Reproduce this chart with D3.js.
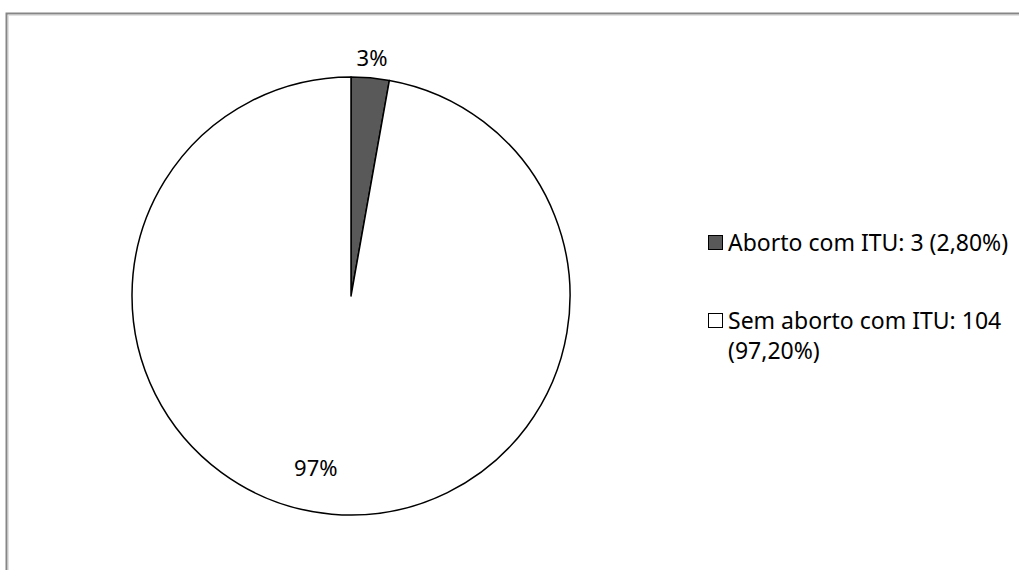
<!DOCTYPE html>
<html>
<head>
<meta charset="utf-8">
<script src="https://cdn.jsdelivr.net/npm/d3@7"></script>
<style>
  body { margin: 0; background: #fff; }
  svg { display: block; }
</style>
</head>
<body>
<div id="chart"></div>
<script>
// data
const categories = ["Aborto com ITU", "Sem aborto com ITU"]
const counts = [3, 104]
const percentLabels = ["2,80%", "97,20%"]
const sliceLabels = ["3%", "97%"]
const colors = ["#595959", "#ffffff"]

const width = 1019
const height = 570
const font = "'Noto Sans', 'Open Sans', sans-serif"
const fontSize = "22px"

const svg = d3.select("#chart")
    .append("svg")
    .attr("width", width)
    .attr("height", height)

// chart frame (runs off the right and bottom edges)
svg.append("rect")
    .attr("x", 6.5)
    .attr("y", 13.5)
    .attr("width", width + 20)
    .attr("height", height + 20)
    .style("fill", "none")
    .style("stroke", "#868686")
    .style("stroke-width", 2)
svg.append("rect")
    .attr("x", 8.5)
    .attr("y", 15.5)
    .attr("width", width + 20)
    .attr("height", height + 20)
    .style("fill", "none")
    .style("stroke", "#e2e2e2")
    .style("stroke-width", 1)

const cx = 351, cy = 296, radius = 219

const pie = d3.pie().sort(null).value(d => d)
const arcs = pie(counts)

const arc = d3.arc().innerRadius(0).outerRadius(radius)

const g = svg.append("g")
    .attr("transform", "translate(" + cx + "," + cy + ")")

g.selectAll("path")
    .data(arcs)
    .enter()
    .append("path")
    .attr("d", arc)
    .style("fill", (d, i) => colors[i])
    .style("stroke", "#000")
    .style("stroke-width", 1.5)
    .style("stroke-linejoin", "round")

// slice labels: small one outside, big one inside
const outerLabel = d3.arc().innerRadius(radius + 20).outerRadius(radius + 20)
const innerLabel = d3.arc().innerRadius(radius * 0.79).outerRadius(radius * 0.79)

g.selectAll("text")
    .data(arcs)
    .enter()
    .append("text")
    .attr("transform", (d, i) => {
        const c = (i == 0 ? outerLabel : innerLabel).centroid(d)
        const shift = i == 0 ? 0 : -20
        return "translate(" + (c[0] + shift) + "," + c[1] + ")"
    })
    .attr("dy", "0.35em")
    .style("text-anchor", "middle")
    .style("font-family", font)
    .style("font-size", fontSize)
    .style("fill", "#000")
    .text((d, i) => sliceLabels[i])

// legend
const legendX = 708
const legendY = [243, 321]
const legend = svg.append("g")

legend.selectAll("rect")
    .data(categories)
    .enter()
    .append("rect")
    .attr("x", legendX + 0.5)
    .attr("y", (d, i) => legendY[i] - 7.5)
    .attr("width", 14)
    .attr("height", 14)
    .style("fill", (d, i) => colors[i])
    .style("stroke", "#000")
    .style("stroke-width", 1)

const lines = [
    [categories[0] + ": " + counts[0] + " (" + percentLabels[0] + ")"],
    [categories[1] + ": " + counts[1], "(" + percentLabels[1] + ")"]
]

legend.selectAll("text")
    .data(lines)
    .enter()
    .append("text")
    .attr("x", legendX + 20)
    .attr("y", (d, i) => legendY[i])
    .style("font-family", font)
    .style("font-size", "23px")
    .style("fill", "#000")
    .each(function (d) {
        d3.select(this).selectAll("tspan")
            .data(d)
            .enter()
            .append("tspan")
            .attr("x", legendX + 20)
            .attr("dy", (t, j) => j == 0 ? "0.35em" : "30px")
            .text(t => t)
    })
</script>
</body>
</html>
